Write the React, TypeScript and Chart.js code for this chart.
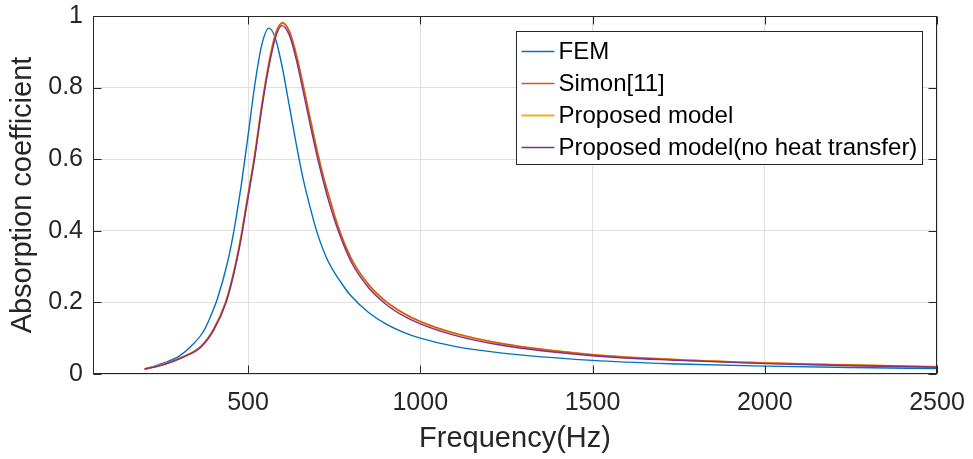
import React, { useEffect, useRef } from "react";
import { Chart, registerables } from "chart.js";

Chart.register(...registerables);

// ---- Data ----
const femFreqs = [200, 256, 300, 334, 370, 390, 411, 440, 460, 472, 480, 500, 520, 540, 561, 580, 600, 620, 640, 660, 677, 700, 730, 769, 800, 850, 900, 950, 1000, 1100, 1232, 1500, 1750, 2000, 2250, 2500];
const femValues = [0.014, 0.031, 0.05, 0.077, 0.118, 0.158, 0.21, 0.31, 0.405, 0.475, 0.525, 0.665, 0.81, 0.92, 0.966, 0.936, 0.854, 0.748, 0.642, 0.545, 0.478, 0.397, 0.32, 0.257, 0.217, 0.172, 0.14, 0.117, 0.1, 0.077, 0.059, 0.038, 0.028, 0.022, 0.018, 0.015];

const simonFreqs = [200, 250, 314, 363, 400, 435, 460, 480, 493, 500, 520, 540, 560, 580, 600, 620, 640, 660, 680, 700, 720, 737, 760, 800, 850, 900, 950, 1000, 1100, 1232, 1500, 1750, 2000, 2250, 2500];
const simonValues = [0.014, 0.025, 0.049, 0.077, 0.125, 0.2, 0.29, 0.385, 0.46, 0.5, 0.615, 0.75, 0.865, 0.95, 0.981, 0.957, 0.893, 0.807, 0.715, 0.626, 0.547, 0.49, 0.416, 0.322, 0.25, 0.203, 0.171, 0.147, 0.114, 0.086, 0.054, 0.04, 0.031, 0.025, 0.02];

const proposedFreqs = [200, 250, 314, 363, 400, 435, 460, 480, 493, 500, 520, 540, 560, 580, 600, 620, 640, 660, 680, 700, 720, 737, 760, 800, 850, 900, 950, 1000, 1100, 1232, 1500, 1750, 2000, 2250, 2500];
const proposedValues = [0.014, 0.025, 0.049, 0.077, 0.125, 0.2, 0.29, 0.385, 0.46, 0.5, 0.615, 0.75, 0.865, 0.95, 0.98, 0.956, 0.892, 0.806, 0.714, 0.625, 0.546, 0.489, 0.415, 0.321, 0.249, 0.202, 0.17, 0.146, 0.113, 0.085, 0.054, 0.04, 0.031, 0.025, 0.02];

const noHeatFreqs = [200, 250, 314, 363, 400, 435, 460, 480, 493, 500, 520, 540, 560, 580, 598, 620, 640, 660, 680, 700, 720, 732, 760, 800, 850, 900, 950, 1000, 1100, 1232, 1500, 1750, 2000, 2250, 2500];
const noHeatValues = [0.014, 0.025, 0.048, 0.075, 0.122, 0.196, 0.285, 0.378, 0.452, 0.492, 0.607, 0.742, 0.856, 0.94, 0.973, 0.946, 0.878, 0.79, 0.698, 0.61, 0.533, 0.49, 0.405, 0.312, 0.241, 0.195, 0.163, 0.14, 0.108, 0.081, 0.051, 0.038, 0.029, 0.023, 0.019];

const xTicks = [500, 1000, 1500, 2000, 2500];
const yTicks = [0, 0.2, 0.4, 0.6, 0.8, 1];

const seriesLabels = ["FEM", "Simon[11]", "Proposed model", "Proposed model(no heat transfer)"];
const seriesColors = ["#0072BD", "#D95319", "#EDB120", "#7E2F8E"];
const seriesOrder = [4, 2, 3, 1];

const xTitle = "Frequency(Hz)";
const yTitle = "Absorption coefficient";

const FONT = "'Liberation Sans', Arial, Helvetica, sans-serif";
const AXIS_COLOR = "#262626";

const framePlugin = {
  id: "matlabFrame",
  afterDatasetsDraw(chart: any) {
    const { ctx, chartArea: a, scales } = chart;
    ctx.save();
    ctx.strokeStyle = AXIS_COLOR;
    ctx.lineWidth = 1;
    const L = Math.round(a.left) + 0.5;
    const R = Math.round(a.right) - 0.5;
    const T = Math.round(a.top) + 0.5;
    const B = Math.round(a.bottom) - 0.5;
    const tl = 8;
    ctx.beginPath();
    for (const v of xTicks) {
      const x = Math.round(scales.x.getPixelForValue(v)) + 0.5;
      ctx.moveTo(x, B);
      ctx.lineTo(x, B - tl);
      ctx.moveTo(x, T);
      ctx.lineTo(x, T + tl);
    }
    for (const v of yTicks) {
      const y = Math.round(scales.y.getPixelForValue(v)) + 0.5;
      ctx.moveTo(L, y);
      ctx.lineTo(L + tl, y);
      ctx.moveTo(R, y);
      ctx.lineTo(R - tl, y);
    }
    ctx.stroke();
    ctx.strokeRect(L, T, R - L, B - T);

    // Legend
    ctx.font = `24px ${FONT}`;
    let maxW = 0;
    for (const s of seriesLabels) maxW = Math.max(maxW, ctx.measureText(s).width);
    const boxRight = Math.round(a.right - 15) + 0.5;
    const boxLeft = Math.round(boxRight - 6 - maxW - 42) + 0.5;
    const boxTop = Math.round(a.top + 15) + 0.5;
    const boxH = 133;
    ctx.fillStyle = "#ffffff";
    ctx.fillRect(boxLeft, boxTop, boxRight - boxLeft, boxH);
    ctx.strokeStyle = AXIS_COLOR;
    ctx.lineWidth = 1;
    ctx.strokeRect(boxLeft, boxTop, boxRight - boxLeft, boxH);
    ctx.textBaseline = "middle";
    ctx.textAlign = "left";
    seriesLabels.forEach((s, i) => {
      const cy = boxTop + 20 + i * 32;
      ctx.strokeStyle = seriesColors[i];
      ctx.lineWidth = i === 2 ? 2 : 1.3;
      ctx.beginPath();
      ctx.moveTo(boxLeft + 5, Math.round(cy - 1) + 0.5);
      ctx.lineTo(boxLeft + 38, Math.round(cy - 1) + 0.5);
      ctx.stroke();
      ctx.fillStyle = "#000000";
      ctx.fillText(s, boxLeft + 42, cy + 1);
    });
    ctx.restore();
  },
};

export default function App() {
  const canvasRef = useRef<HTMLCanvasElement | null>(null);

  useEffect(() => {
    const canvas = canvasRef.current;
    if (!canvas) return;
    Chart.defaults.font.family = FONT;
    const freqSets = [femFreqs, simonFreqs, proposedFreqs, noHeatFreqs];
    const valueSets = [femValues, simonValues, proposedValues, noHeatValues];
    const datasets = valueSets.map((vals, i) => ({
      label: seriesLabels[i],
      data: freqSets[i].map((f, j) => ({ x: f, y: vals[j] })),
      borderColor: seriesColors[i],
      backgroundColor: seriesColors[i],
      borderWidth: i === 2 ? 2 : 1.4,
      pointRadius: 0,
      fill: false,
      cubicInterpolationMode: "monotone" as const,
      order: seriesOrder[i],
    }));

    const chart = new Chart(canvas, {
      type: "line",
      data: { datasets },
      options: {
        animation: false,
        responsive: false,
        devicePixelRatio: 1,
        layout: { padding: { left: 0, top: 16, right: 36, bottom: 0 } },
        plugins: {
          legend: { display: false },
          tooltip: { enabled: false },
        },
        scales: {
          x: {
            type: "linear",
            min: 50,
            max: 2500,
            afterBuildTicks: (s: any) => {
              s.ticks = xTicks.map((v) => ({ value: v }));
            },
            afterFit: (s: any) => {
              s.height = 85;
              s.paddingLeft = 0;
              s.paddingRight = 0;
            },
            grid: { color: "#e0e0e0", drawTicks: false, lineWidth: 1 },
            border: { display: false },
            ticks: {
              padding: 14,
              color: AXIS_COLOR,
              font: { size: 25, family: FONT },
              maxRotation: 0,
              autoSkip: false,
              callback: (v: any) => String(v),
            },
            title: {
              display: true,
              text: xTitle,
              color: AXIS_COLOR,
              font: { size: 29, family: FONT },
              padding: { top: 0, bottom: 3 },
            },
          },
          y: {
            type: "linear",
            min: 0,
            max: 1,
            afterBuildTicks: (s: any) => {
              s.ticks = yTicks.map((v) => ({ value: v }));
            },
            afterFit: (s: any) => {
              s.width = 93;
              s.paddingTop = 0;
              s.paddingBottom = 0;
            },
            grid: { color: "#e0e0e0", drawTicks: false, lineWidth: 1 },
            border: { display: false },
            ticks: {
              padding: 10,
              color: AXIS_COLOR,
              font: { size: 25, family: FONT },
              autoSkip: false,
              callback: (v: any) => String(v),
            },
            title: {
              display: true,
              text: yTitle,
              color: AXIS_COLOR,
              font: { size: 29, family: FONT },
              padding: { top: 6, bottom: 0 },
            },
          },
        },
      },
      plugins: [framePlugin],
    });
    return () => chart.destroy();
  }, []);

  return (
    <div style={{ position: "absolute", left: 0, top: 0, width: 973, height: 459, background: "#ffffff" }}>
      <canvas ref={canvasRef} width={973} height={459} style={{ width: 973, height: 459, display: "block" }} />
    </div>
  );
}
